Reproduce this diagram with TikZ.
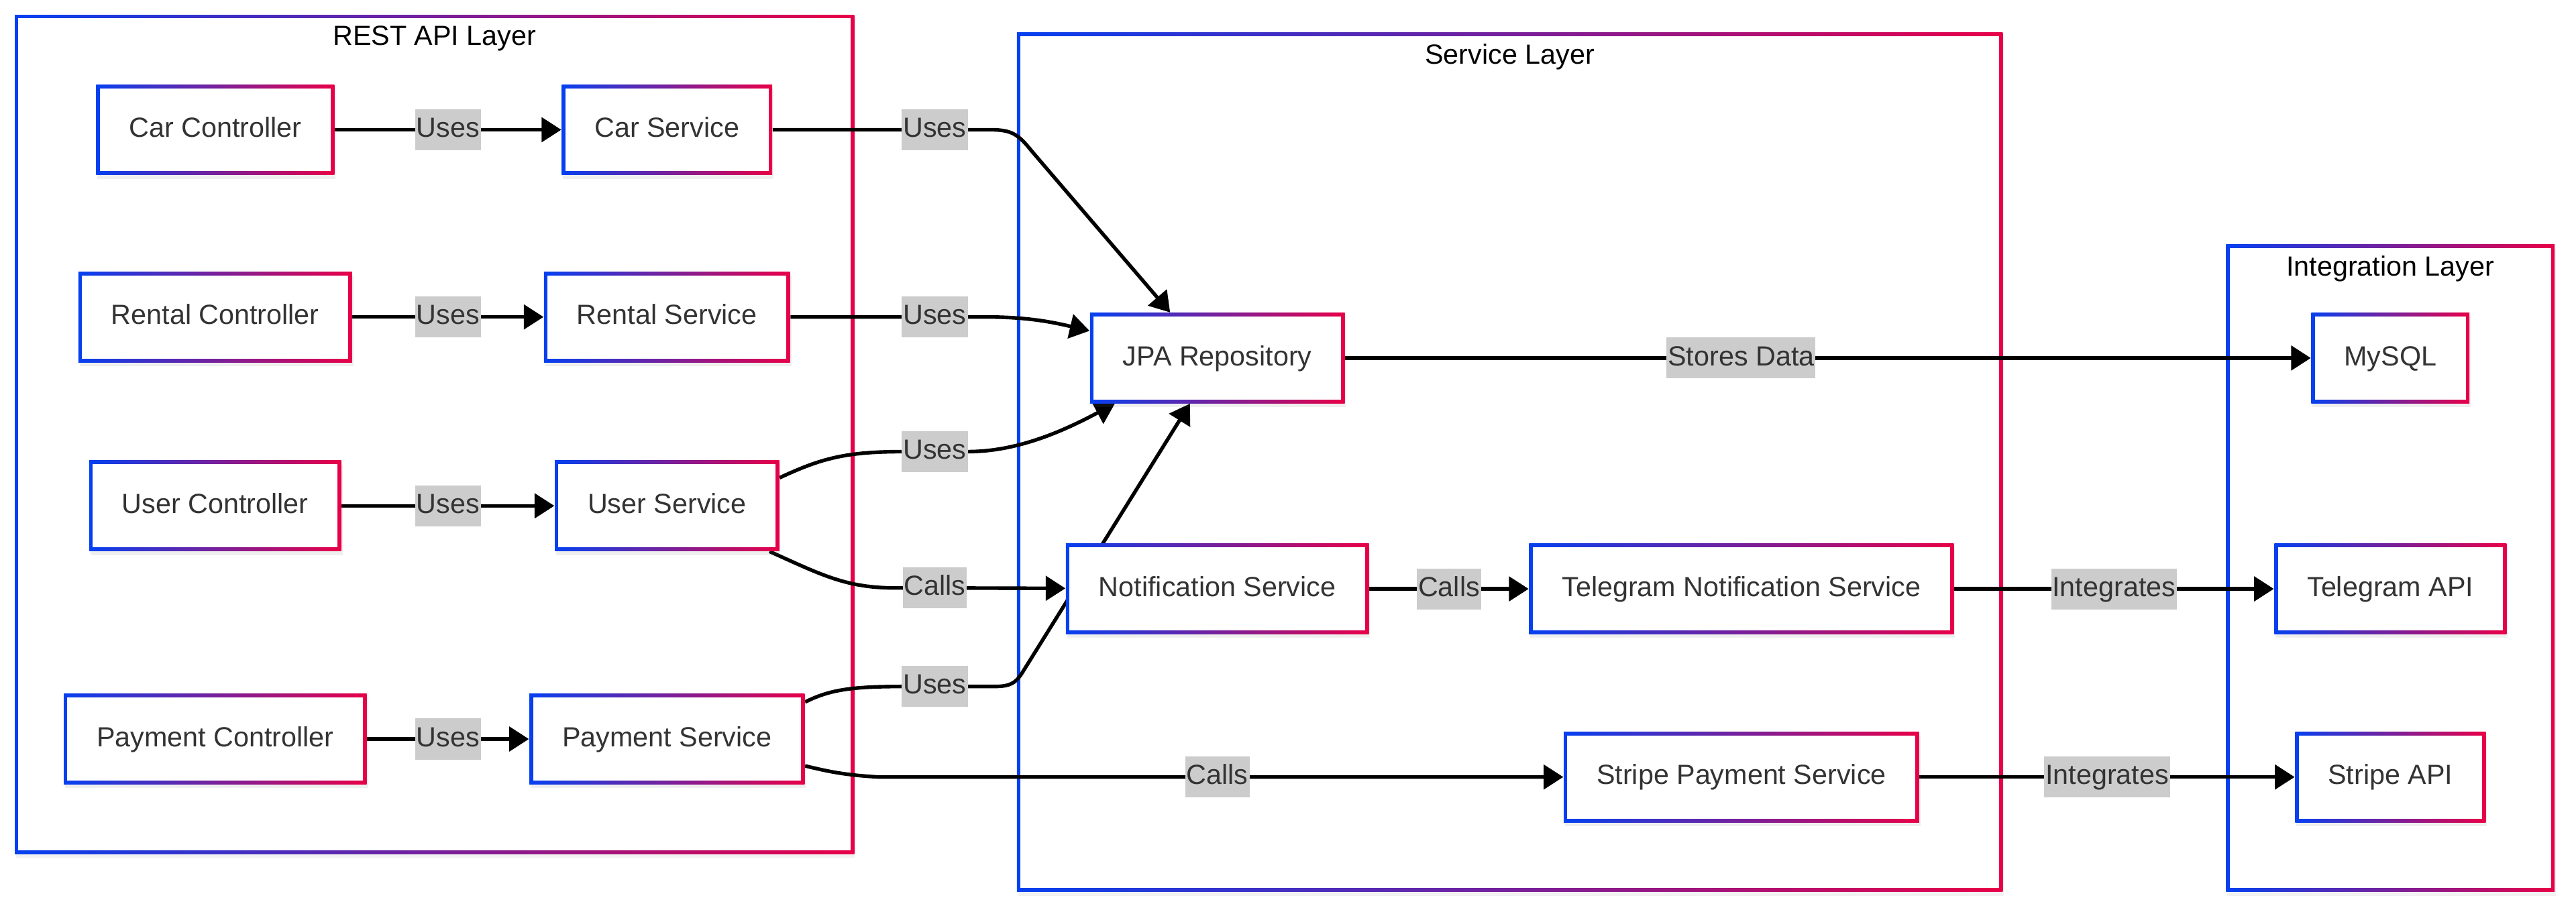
\documentclass[tikz,border=0pt]{standalone}
\usepackage{fontspec}
\setmainfont{Liberation Sans}
\usepackage{tikz}
\usetikzlibrary{positioning}
\usetikzlibrary{calc}
\usetikzlibrary{arrows.meta}
\usetikzlibrary{shadows}
\pgfdeclarelayer{framebg}
\pgfdeclarelayer{edgebg}
\pgfsetlayers{framebg,edgebg,main}
\definecolor{gradblue}{RGB}{5,64,240}
\definecolor{gradred}{RGB}{232,0,72}
\definecolor{nodetext}{RGB}{51,51,51}
\definecolor{labelgrey}{RGB}{204,204,204}

\begin{document}
\begin{tikzpicture}[x=0.25mm, y=-0.25mm,
	every node/.style={font=\fontsize{12}{14}\selectfont},
	gradborder/.style={path picture={
		\shade[left color=gradblue, right color=gradred] (path picture bounding box.south west) rectangle (path picture bounding box.north east);
		\fill[white] ([shift={(0.55mm,0.55mm)}]path picture bounding box.south west) rectangle ([shift={(-0.55mm,-0.55mm)}]path picture bounding box.north east);}},
	comp/.style={rectangle, fill=white, gradborder, minimum height=13.75mm, inner xsep=5mm, text height=0.9em, text depth=0.25em, text=nodetext, drop shadow={shadow xshift=0.2mm, shadow yshift=-0.6mm, opacity=0.12}},
	layerframe/.style={rectangle, fill=white, gradborder, drop shadow={shadow xshift=0.2mm, shadow yshift=-0.6mm, opacity=0.1}},
	layertitle/.style={inner sep=0pt, text=black},
	lbl/.style={fill=labelgrey, text=nodetext, inner xsep=0.2mm, inner ysep=0pt, text height=0.9em, text depth=0.25em, minimum height=6.25mm},
	arrowline/.style={line width=0.55mm, -{Triangle[length=3mm, width=3.7mm]}}]
	\useasboundingbox (0,0) rectangle (1568,554);
	
	\begin{pgfonlayer}{framebg}
	\node [layerframe, minimum width=127.75mm, minimum height=127.75mm] at (264.5,264.5) (0Rest) {};
	\node [layerframe, minimum width=150mm, minimum height=130.75mm] at (919,281.5) (0Service) {};
	\node [layerframe, minimum width=50mm, minimum height=98.5mm] at (1455,346) (0Integ) {};
	\node [layertitle, below=1.7mm of 0Rest.north] (0RestT) {REST API Layer}; \node [layertitle, below=1.7mm of 0Service.north] (0ServiceT) {Service Layer}; \node [layertitle, below=1.7mm of 0Integ.north] (0IntegT) {Integration Layer};
	\end{pgfonlayer}
	
	\node [comp] at (131,79) (1Car) {Car Controller}; \node [comp] at (406,79) (2Car) {Car Service};
	\node [comp] at (131,193) (1Rental) {Rental Controller}; \node [comp] at (406,193) (2Rental) {Rental Service};
	\node [comp] at (131,308) (1User) {User Controller}; \node [comp] at (406,308) (2User) {User Service};
	\node [comp] at (131,450) (1Payment) {Payment Controller}; \node [comp] at (406,450) (2Payment) {Payment Service};
	\node [comp] at (741,218) (3JPA) {JPA Repository}; \node [comp, below=21.25mm of 3JPA] (3Notif) {Notification Service};
	\node [comp, right=24.25mm of 3Notif] (3TgNotif) {Telegram Notification Service}; \node [comp, below=14.75mm of 3TgNotif] (3Stripe) {Stripe Payment Service};
	\node [comp] at (1455,218) (4MySQL) {MySQL}; \node [comp, below=21.25mm of 4MySQL] (4Telegram) {Telegram API}; \node [comp, below=14.75mm of 4Telegram] (4Stripe) {Stripe API};
	
	\begin{pgfonlayer}{edgebg}
	\draw[arrowline] (1Car) -- node[lbl] {Uses} (2Car); \draw[arrowline] (1Rental) -- node[lbl] {Uses} (2Rental);
	\draw[arrowline] (1User) -- node[lbl] {Uses} (2User); \draw[arrowline] (1Payment) -- node[lbl] {Uses} (2Payment);
	\draw[arrowline] (2Car.east) -- (569,79) node[lbl] {Uses} -- (603,79) .. controls (616,79) and (620,82) .. (628,92) -- (3JPA.136);
	\draw[arrowline] (2Rental.east) -- (569,193) node[lbl] {Uses} -- (600,193) .. controls (625,193) and (640,196) .. (3JPA.168);
	\draw[arrowline] (2User.14) .. controls (500,279) and (515,275) .. (550,275) -- (569,275) node[lbl] {Uses} -- (589,275) .. controls (620,275) and (648,262) .. (3JPA.204);
	\draw[arrowline] (2User.336) .. controls (500,350) and (515,358) .. (545,358) -- (569,358) node[lbl] {Calls} -- (3Notif);
	\draw[arrowline] (2Payment.15) .. controls (505,420) and (518,418) .. (550,418) -- (569,418) node[lbl] {Uses} -- (605,418) .. controls (615,418) and (618,416) .. (622,410) -- (3JPA.239); % runs behind 3Notif
	\draw[arrowline] (2Payment.349) .. controls (505,470) and (515,472) .. (535,0 |- 3Stripe.west) -- (741,0 |- 3Stripe.west) node[lbl] {Calls} -- (3Stripe);
	\draw[arrowline] (3Notif) -- node[lbl] {Calls} (3TgNotif);
	\draw[arrowline] (3JPA) -- node[lbl, pos=0.41] {Stores Data} (4MySQL);
	\draw[arrowline] (3TgNotif) -- node[lbl] {Integrates} (4Telegram); \draw[arrowline] (3Stripe) -- node[lbl] {Integrates} (4Stripe);
	\end{pgfonlayer}
\end{tikzpicture}
\end{document}
